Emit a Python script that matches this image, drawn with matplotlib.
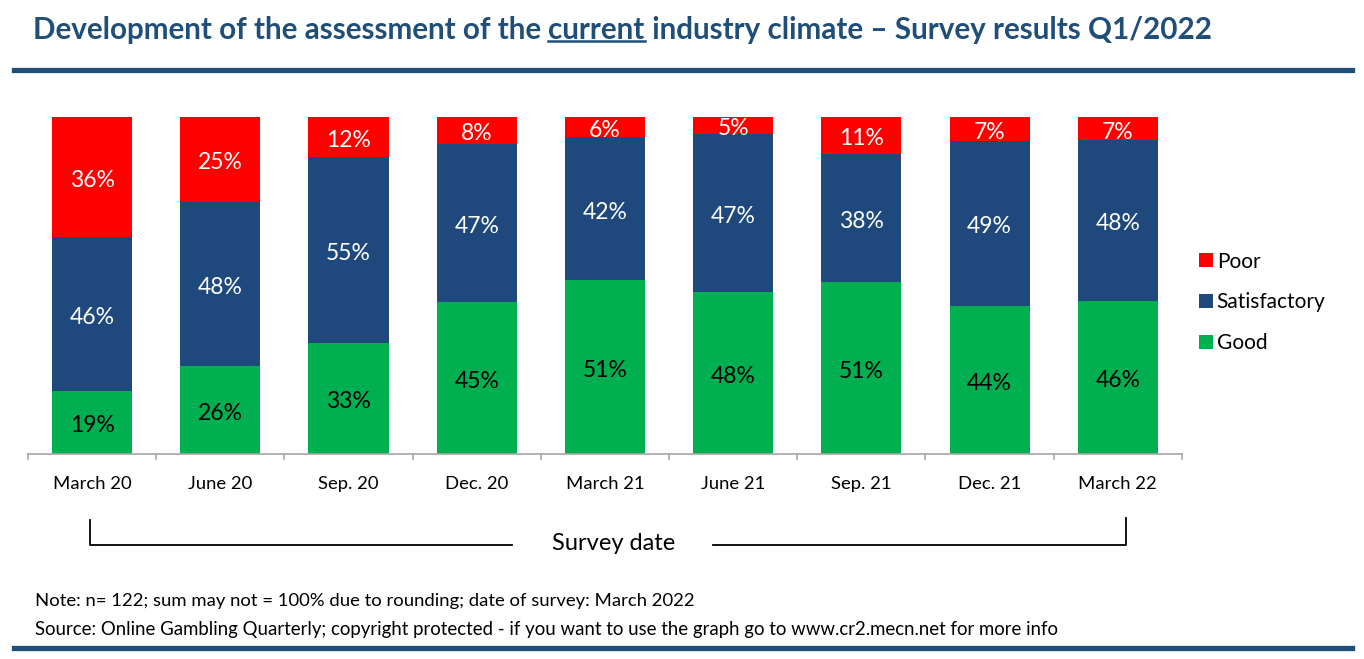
import numpy as np
import matplotlib.pyplot as plt
from matplotlib.lines import Line2D

# Data (percent, as printed on the chart)
dates = ['March 20', 'June 20', 'Sep. 20', 'Dec. 20', 'March 21',
         'June 21', 'Sep. 21', 'Dec. 21', 'March 22']
good = [19, 26, 33, 45, 51, 48, 51, 44, 46]
satisfactory = [46, 48, 55, 47, 42, 47, 38, 49, 48]
poor = [36, 25, 12, 8, 6, 5, 11, 7, 7]

RED = '#FF0000'
BLUE = '#1F497D'
GREEN = '#00B050'
DARK = '#1F4E79'

plt.rcParams['font.family'] = ['Lato', 'DejaVu Sans']

fig = plt.figure(figsize=(13.64, 6.59), dpi=100)
ax = fig.add_axes([0.0205, 0.311, 0.846, 0.5115])

x = np.arange(len(dates))
tot = np.array(good) + np.array(satisfactory) + np.array(poor)
g = np.array(good) / tot
s = np.array(satisfactory) / tot
p = np.array(poor) / tot

w = 0.625
ax.bar(x, g, w, color=GREEN, label='Good')
ax.bar(x, s, w, bottom=g, color=BLUE, label='Satisfactory')
ax.bar(x, p, w, bottom=g + s, color=RED, label='Poor')

off = 0.01
for i in range(len(dates)):
    ax.text(x[i], g[i] / 2 - off, f'{good[i]}%', ha='center', va='center',
            fontsize=16.5, color='black')
    ax.text(x[i], g[i] + s[i] / 2 - off, f'{satisfactory[i]}%', ha='center',
            va='center', fontsize=16.5, color='white')
    ax.text(x[i], g[i] + s[i] + p[i] / 2 - off, f'{poor[i]}%', ha='center',
            va='center', fontsize=16.5, color='white')

ax.set_xlim(-0.5, len(dates) - 0.5)
ax.set_ylim(0, 1)
ax.set_yticks([])
for sp in ['top', 'right', 'left']:
    ax.spines[sp].set_visible(False)
ax.spines['bottom'].set_color('#A6A6A6')
ax.spines['bottom'].set_linewidth(1.2)
ax.set_xticks(x)
ax.set_xticklabels(dates, fontsize=13.3)
ax.tick_params(axis='x', length=0, pad=16)
for b in np.arange(-0.5, len(dates), 1.0):
    ax.plot([b, b], [0, -0.015], color='#A6A6A6', lw=1.2, clip_on=False)

# legend
handles, labels = ax.get_legend_handles_labels()
fig.legend(handles[::-1], labels[::-1], loc='center left',
           bbox_to_anchor=(0.8793, 0.541), frameon=False, fontsize=15,
           handlelength=0.65, handleheight=0.65, handletextpad=0.18,
           labelspacing=1.0, borderaxespad=0, borderpad=0)

# title with underlined word
ty = 1 - 30 / 659
t1 = fig.text(33 / 1364, ty, 'Development of the assessment of the ',
              fontsize=21.3, fontweight='bold', color=DARK, va='center')
t2 = ax.annotate('current', xy=(1, 0), xycoords=t1, va='bottom',
                 fontsize=21.3, fontweight='bold', color=DARK,
                 annotation_clip=False)
t3 = ax.annotate(' industry climate \u2013 Survey results Q1/2022', xy=(1, 0),
                 xycoords=t2, va='bottom', fontsize=21.3, fontweight='bold',
                 color=DARK, annotation_clip=False)
fig.canvas.draw()
bb = t2.get_window_extent()
uy = bb.y0 + 3
fig.add_artist(Line2D([bb.x0 / 1364, bb.x1 / 1364], [uy / 659, uy / 659],
                      color=DARK, lw=1.8, transform=fig.transFigure))

# header / footer rules
fig.add_artist(Line2D([14 / 1364, 1352 / 1364], [1 - 70 / 659] * 2,
                      color=DARK, lw=3.8, transform=fig.transFigure))
fig.add_artist(Line2D([14 / 1364, 1352 / 1364], [1 - 648 / 659] * 2,
                      color=DARK, lw=3.8, transform=fig.transFigure))

# survey date bracket
yb = 1 - 545 / 659
fig.text(614 / 1364, yb + 2 / 659, 'Survey date', fontsize=17, ha='center',
         va='center')
fig.add_artist(Line2D([90 / 1364, 90 / 1364, 512 / 1364],
                      [1 - 520 / 659, yb, yb], color='black', lw=1.3,
                      transform=fig.transFigure))
fig.add_artist(Line2D([713 / 1364, 1126 / 1364, 1126 / 1364],
                      [yb, yb, 1 - 518 / 659], color='black', lw=1.3,
                      transform=fig.transFigure))

fig.text(35 / 1364, 1 - 601 / 659,
         'Note: n= 122; sum may not = 100% due to rounding; date of survey: March 2022',
         fontsize=13.3, va='center')
fig.text(35 / 1364, 1 - 630 / 659,
         'Source: Online Gambling Quarterly; copyright protected - if you want to use the graph go to www.cr2.mecn.net for more info',
         fontsize=13.4, va='center')

fig.savefig('out.png', dpi=100)
